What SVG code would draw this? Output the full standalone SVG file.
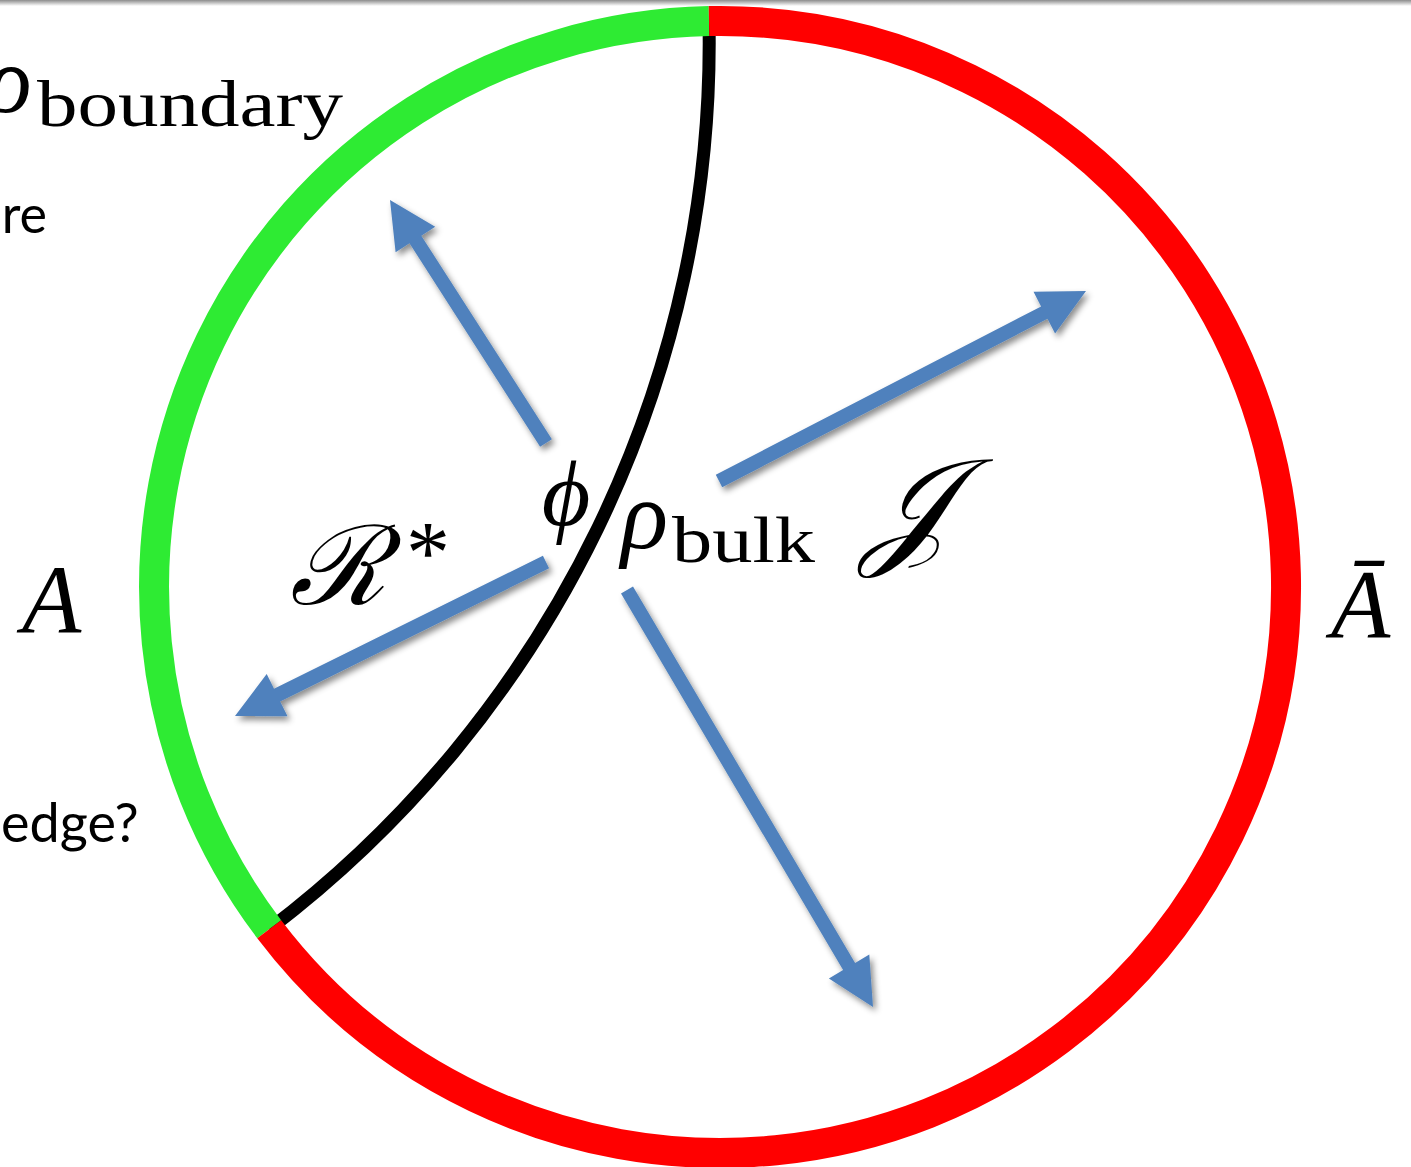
<svg xmlns="http://www.w3.org/2000/svg" width="1411" height="1167" viewBox="0 0 1411 1167">
  <defs>
    <filter id="shadow" x="-20%" y="-20%" width="140%" height="140%">
      <feDropShadow dx="3" dy="4" stdDeviation="3" flood-color="#000" flood-opacity="0.45"/>
    </filter>
    <linearGradient id="topbar" x1="0" y1="0" x2="0" y2="1">
      <stop offset="0" stop-color="#8c8c8c"/>
      <stop offset="1" stop-color="#ffffff"/>
    </linearGradient>
  </defs>
  <style>
    .math { font-family: "Liberation Serif", "DejaVu Serif", serif; fill: #000; }
    .it { font-style: italic; }
    .sans { font-family: Lato, "Open Sans", "Liberation Sans", sans-serif; fill: #000; }
    .arrow { fill: #4F81BD; }
    .ring { fill: none; stroke-width: 30; stroke-linecap: butt; }
  </style>
  <rect x="0" y="0" width="1411" height="1167" fill="#fff"/>
  <rect x="0" y="0" width="1411" height="6" fill="url(#topbar)"/>

  <g id="cut-geodesic">
    <path d="M 709 21.1 A 1113 1113 0 0 1 269.2 929.2" fill="none" stroke="#000" stroke-width="13"/>
  </g>

  <g id="boundary-circle">
    <path id="region-A" class="ring" stroke="#2EEB33" d="M 269.2 929.2 A 566 566 0 0 1 709 21.1"/>
    <path id="region-Abar" class="ring" stroke="#FF0000" d="M 709 21.1 A 566 566 0 1 1 269.2 929.2"/>
  </g>

  <g id="connectors" filter="url(#shadow)">
    <polygon class="arrow" points="551.9,439.2 421.3,235.7 435.2,226.8 390,200 395.6,252.2 409.5,243.3 540.1,446.8"/>
    <polygon class="arrow" points="722.2,487.2 1047.5,318.8 1055.1,333.5 1086,291 1033.5,291.7 1041.1,306.4 715.8,474.8"/>
    <polygon class="arrow" points="542.9,555.7 274.0,688.8 266.7,674.1 235,716 287.5,716.2 280.2,701.4 549.1,568.3"/>
    <polygon class="arrow" points="621.0,593.6 843.1,970.1 828.9,978.4 873,1007 869.3,954.6 855.1,963.0 633.0,586.4"/>
  </g>

  <g id="label-rho-boundary">
    <text class="math it" x="-14" y="112" font-size="95">ρ</text>
    <text class="math" x="37" y="126" font-size="66" textLength="306" lengthAdjust="spacingAndGlyphs">boundary</text>
  </g>
  <g id="label-re">
    <text class="sans" x="47" y="233" font-size="52" text-anchor="end">re</text>
  </g>
  <g id="label-edge">
    <text class="sans" x="1" y="842" font-size="54">edge?</text>
  </g>
  <g id="label-A">
    <text class="math it" x="22" y="632" font-size="97">A</text>
  </g>
  <g id="label-Abar">
    <text class="math it" x="1331" y="637" font-size="97">Ā</text>
  </g>
  <g id="label-phi">
    <text class="math it" x="566" y="525" font-size="94" text-anchor="middle">ϕ</text>
  </g>
  <g id="label-rho-bulk">
    <text class="math it" x="621" y="548" font-size="98">ρ</text>
    <text class="math" x="672" y="562" font-size="66" textLength="143" lengthAdjust="spacingAndGlyphs">bulk</text>
  </g>
  <g id="label-R-star">
    <text class="math it" x="290" y="604" font-size="110">ℛ</text>
    <text class="math" x="406" y="582" font-size="88">*</text>
  </g>
  <g id="label-J">
    <text class="math it" x="862" y="550" font-size="130">𝒥</text>
  </g>
</svg>
